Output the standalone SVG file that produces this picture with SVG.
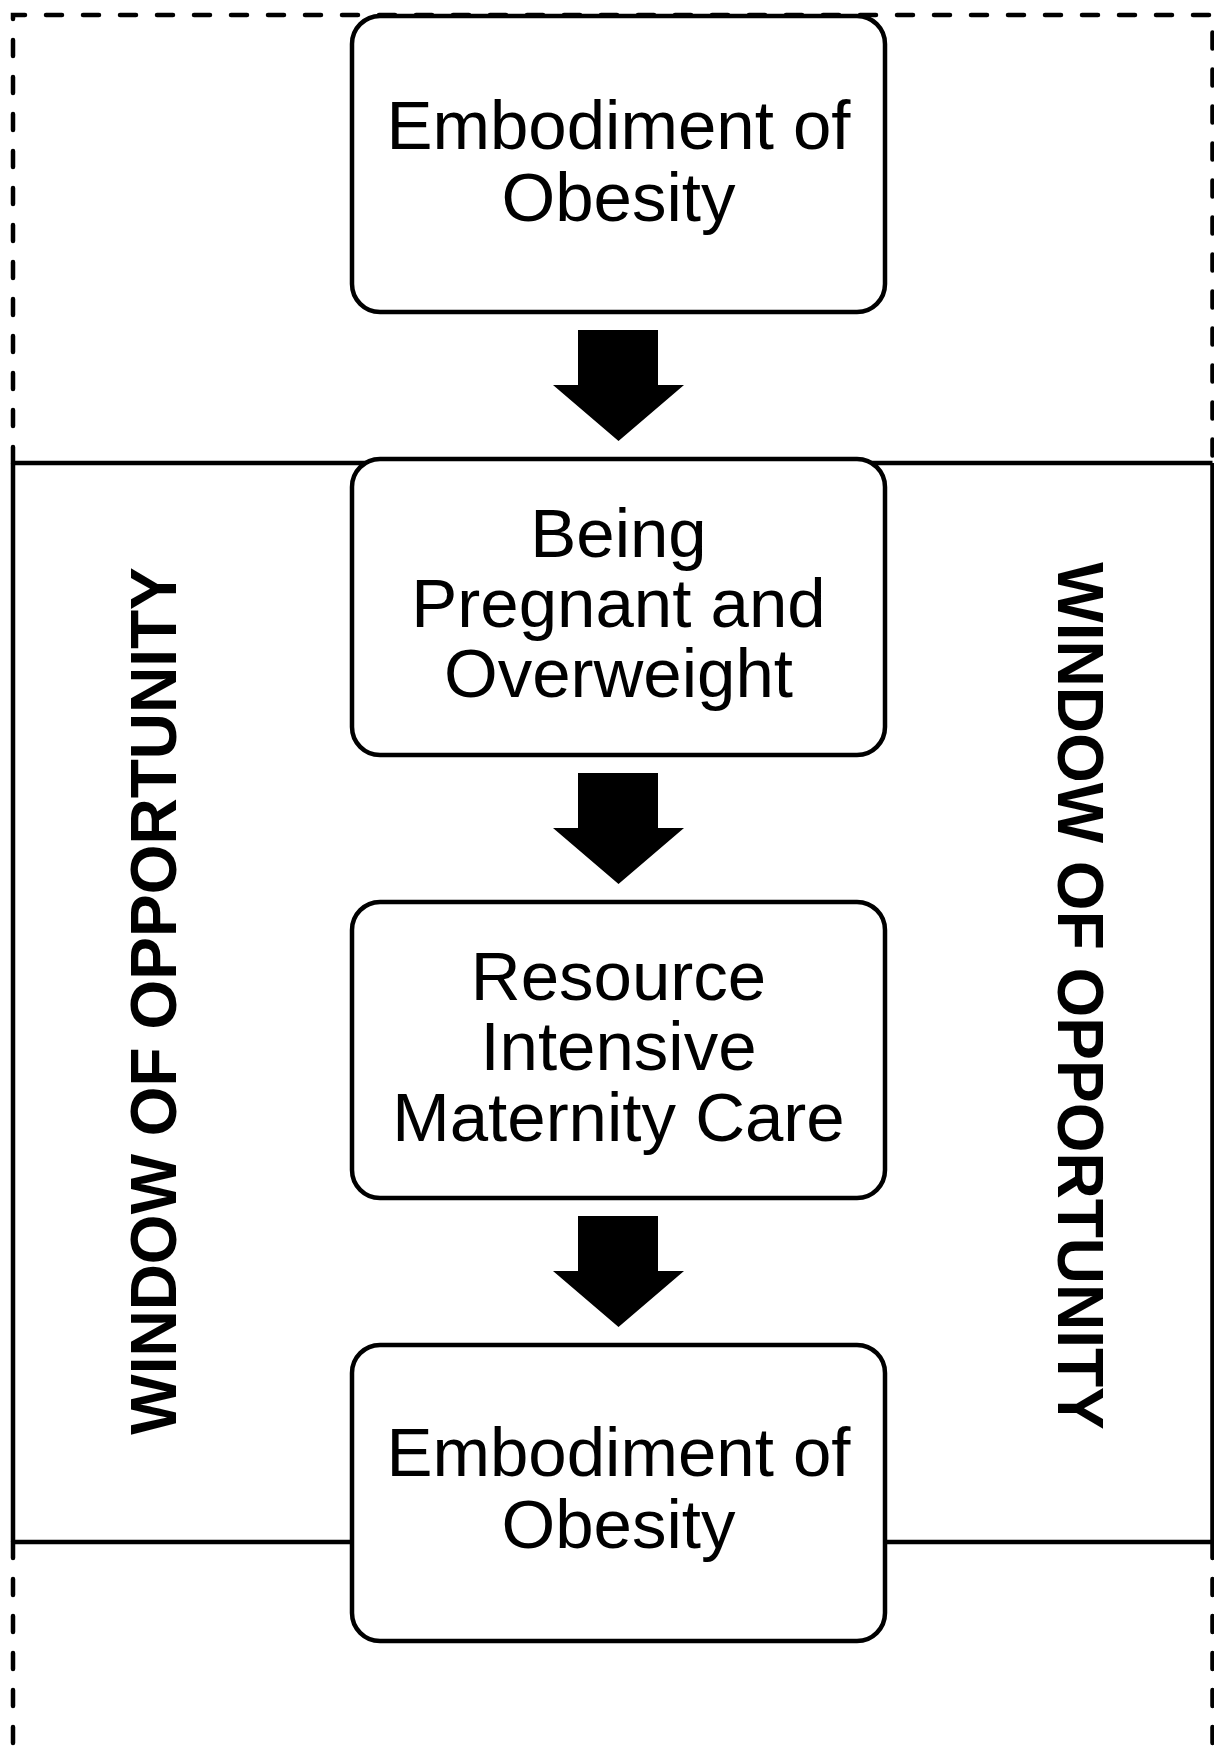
<svg xmlns="http://www.w3.org/2000/svg" width="1214" height="1762" viewBox="0 0 1214 1762">
<style>
.frame{fill:none;stroke:#000;stroke-width:4.5}
.dash{fill:none;stroke:#000;stroke-width:4.5;stroke-dasharray:16 21;stroke-linecap:round}
.box{fill:#fff;stroke:#000;stroke-width:4.5}
.lbl{font-family:"Liberation Sans",Arial,sans-serif;font-size:69px;fill:#000;text-anchor:middle}
.side{font-family:"Liberation Sans",Arial,sans-serif;font-size:64px;font-weight:bold;fill:#000;text-anchor:middle}
.arr{fill:#000}
</style>
<rect width="1214" height="1762" fill="#fff"/>
<g id="frame">
<path class="dash" d="M13,463 V15 H1212.5 V463"/>
<path class="dash" d="M13,1542 V1762 M1212.5,1542 V1762"/>
<path class="frame" d="M13,463 H1212.5 M13,1542 H1212.5 M13,463 V1542 M1212.5,463 V1542"/>
<text class="side" transform="translate(176,1001) rotate(-90)">WINDOW OF OPPORTUNITY</text>
<text class="side" transform="translate(1058,996) rotate(90)">WINDOW OF OPPORTUNITY</text>
</g>
<g id="connectors">
<path class="arr" d="M578,330 H658 V385 H684 L618.5,441 L553,385 H578 Z"/>
<path class="arr" d="M578,773 H658 V828 H684 L618.5,884 L553,828 H578 Z"/>
<path class="arr" d="M578,1216 H658 V1271 H684 L618.5,1327 L553,1271 H578 Z"/>
</g>
<g id="node1">
<rect class="box" x="352" y="16" width="533" height="296" rx="28"/>
<text class="lbl" x="618.5" y="149">Embodiment of</text>
<text class="lbl" x="618.5" y="221">Obesity</text>
</g>
<g id="node2">
<rect class="box" x="352" y="459" width="533" height="296" rx="28"/>
<text class="lbl" x="618.5" y="557">Being</text>
<text class="lbl" x="618.5" y="627">Pregnant and</text>
<text class="lbl" x="618.5" y="697">Overweight</text>
</g>
<g id="node3">
<rect class="box" x="352" y="902" width="533" height="296" rx="28"/>
<text class="lbl" x="618.5" y="1000">Resource</text>
<text class="lbl" x="618.5" y="1070">Intensive</text>
<text class="lbl" x="618.5" y="1141">Maternity Care</text>
</g>
<g id="node4">
<rect class="box" x="352" y="1345" width="533" height="296" rx="28"/>
<text class="lbl" x="618.5" y="1476">Embodiment of</text>
<text class="lbl" x="618.5" y="1548">Obesity</text>
</g>
</svg>
